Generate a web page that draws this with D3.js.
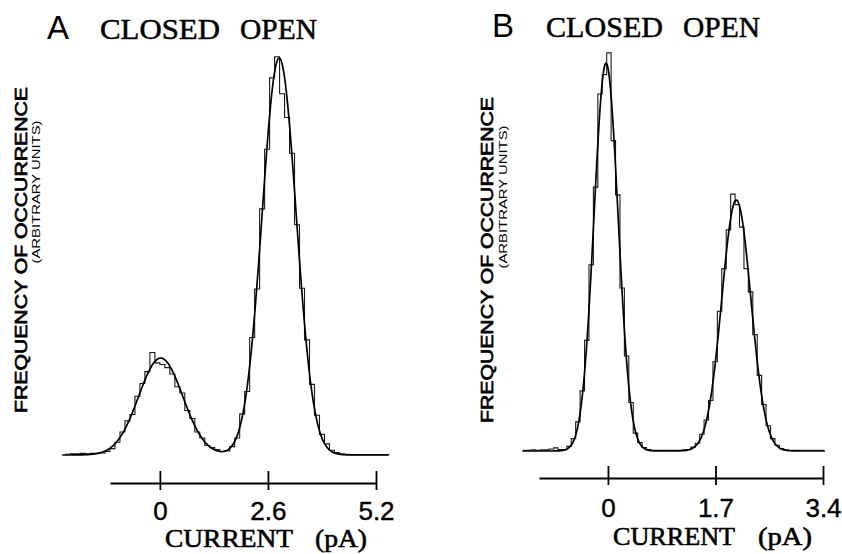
<!DOCTYPE html>
<html>
<head>
<meta charset="utf-8">
<script src="https://cdn.jsdelivr.net/npm/d3@7"></script>
<style>
  html, body { margin: 0; padding: 0; background: #fff; }
  svg { display: block; }
</style>
</head>
<body>
<svg id="chart" width="842" height="554"></svg>
<script>
// ---------------- DATA ----------------
// Panel A: amplitude histogram (arbitrary units), bins of 0.12 pA starting at -2.28 pA
const histStartA = -2.28;
const binWidthA = 0.12;
const histA = [0.2,0.3,0.3,0.4,0.3,0.4,0.4,0.5,0.9,1.6,
               3.2,5.8,8.6,10.2,14.8,18.0,21.0,25.8,23.2,22.8,
               22.0,20.4,17.2,15.6,11.2,9.2,5.8,4.3,2.4,1.9,
               1.4,0.9,1.0,2.1,4.3,10.3,16.0,29.6,41.8,62.0,
               77.0,95.0,100.3,91.0,85.0,76.0,58.0,42.0,29.0,17.8,
               10.0,5.2,2.8,1.2,0.6,0.3,0.2,0.1,0.1,0.1,
               0.1,0.1,0.1,0.1,0.1];
// Panel A: fitted Gaussian components (closed, open)
const fitMeanA = [0.02, 2.87];
const fitSdA   = [0.53, 0.41];
const fitAmpA  = [24.4, 100];
const fitRangeA = [-2.35, 5.5];
const axisRangeA = [-1.2, 5.2];
const ticksA = [0, 2.6, 5.2];

// Panel B: amplitude histogram, bins of 0.07 pA starting at -1.35 pA
const histStartB = -1.35;
const binWidthB = 0.07;
const histB = [0.2,0.2,0.3,0.2,0.3,0.3,0.5,
               0.8,0.4,0.4,1.2,3.2,7.5,15.5,28.5,48,68,92,97,102.6,80,66,42,24.5,12.5,4.6,2.2,0.9,0.4,0.2,
               0.15,0.15,0.15,0.2,0.2,0.2,0.3,0.4,1.0,
               2.0,4.3,8,13,23,36,47,57,66.2,63.5,57.7,47,41,30,19.5,12,6.5,3.2,1.5,0.6,0.3,
               0.2,0.2,0.2,0.2,0.2,0.2,0.2,0.2];
const fitMeanB = [-0.03, 2.03];
const fitSdB   = [0.19, 0.23];
const fitAmpB  = [100, 64.7];
const fitRangeB = [-1.35, 3.43];
const axisRangeB = [-1.09, 3.4];
const ticksB = [0, 1.7, 3.4];

const panelLetters = ["A", "B"];
const stateLabels = ["CLOSED", "OPEN"];
const yLabel = "FREQUENCY OF OCCURRENCE";
const ySubLabel = "(ARBITRARY UNITS)";
const xLabelMain = "CURRENT";
const xLabelUnit = "(pA)";

// ---------------- DRAWING ----------------
const svg = d3.select("#chart");
svg.append("rect").attr("width", 842).attr("height", 554).attr("fill", "#fff");

const SANS = "'Liberation Sans', Arial, Helvetica, sans-serif";
const SERIF = "'Liberation Serif', 'Times New Roman', serif";

function drawPanel(cfg) {
  const g = svg.append("g");
  const x = d3.scaleLinear().domain(cfg.axisRange).range(cfg.xRange);
  const y = d3.scaleLinear().domain([0, 100]).range(cfg.yRange);

  // histogram (step outline)
  const pts = cfg.hist.map((v, i) => ({ e: cfg.histStart + i * cfg.binWidth, v }));
  pts.push({ e: cfg.histStart + cfg.hist.length * cfg.binWidth, v: cfg.hist[cfg.hist.length - 1] });
  const stepLine = d3.line().x(d => x(d.e)).y(d => y(d.v)).curve(d3.curveStepAfter);
  g.append("path").attr("d", stepLine(pts))
    .attr("fill", "none").attr("stroke", "#1a1a1a").attr("stroke-width", 1.1);

  // fitted sum of gaussians
  const fit = xv => d3.sum(cfg.fitMean, (m, j) =>
      cfg.fitAmp[j] * Math.exp(-((xv - m) ** 2) / (2 * cfg.fitSd[j] ** 2)));
  const xs = d3.range(cfg.fitRange[0], cfg.fitRange[1] + 1e-9, 0.01);
  const fitLine = d3.line().x(d => x(d)).y(d => y(fit(d))).curve(d3.curveBasis);
  g.append("path").attr("d", fitLine(xs))
    .attr("fill", "none").attr("stroke", "#000").attr("stroke-width", 1.7);

  // x axis
  const axis = d3.axisBottom(x).tickValues(cfg.ticks)
    .tickFormat(d => d === 0 ? "0" : d.toFixed(1))
    .tickSizeOuter(0).tickSizeInner(7).tickPadding(0);
  const ag = g.append("g").attr("transform", `translate(0,${cfg.axisY})`).call(axis);
  ag.attr("font-family", null).attr("font-size", null);
  ag.select(".domain").attr("stroke", "#000").attr("stroke-width", 1.8);
  ag.selectAll(".tick line").attr("y1", -12).attr("y2", 7)
    .attr("stroke", "#000").attr("stroke-width", 1.8);
  ag.selectAll(".tick text").attr("y", cfg.tickLabelDy).attr("dy", 0)
    .style("font-family", SANS).style("font-size", "26px").attr("fill", "#000")
    .attr("stroke", "#000").attr("stroke-width", 0.4);

  // x label
  g.append("text").attr("x", cfg.xl[0]).attr("y", cfg.xl[2])
    .style("font-family", SERIF).style("font-size", "26px").attr("textLength", cfg.xl[1])
    .attr("lengthAdjust", "spacingAndGlyphs").attr("stroke", "#000").attr("stroke-width", 0.6)
    .text(xLabelMain);
  g.append("text").attr("x", cfg.xu[0]).attr("y", cfg.xl[2])
    .style("font-family", SERIF).style("font-size", "26px").attr("textLength", cfg.xu[1])
    .attr("lengthAdjust", "spacingAndGlyphs").attr("stroke", "#000").attr("stroke-width", 0.6)
    .text(xLabelUnit);

  // panel letter + titles
  g.append("text").attr("x", cfg.letter[0]).attr("y", cfg.letter[1])
    .style("font-family", SANS).style("font-size", "33px").text(cfg.letterText);
  stateLabels.forEach((s, i) => {
    g.append("text").attr("x", cfg.titles[i][0]).attr("y", cfg.letter[1])
      .style("font-family", SERIF).style("font-size", "29px")
      .attr("textLength", cfg.titles[i][1]).attr("lengthAdjust", "spacingAndGlyphs")
      .attr("stroke", "#000").attr("stroke-width", 0.5)
      .text(s);
  });

  // y labels (rotated)
  g.append("text")
    .attr("transform", `translate(${cfg.yl[0]},${cfg.yl[1]}) rotate(-90)`)
    .attr("text-anchor", "middle").style("font-family", SANS)
    .style("font-size", "17px").attr("textLength", cfg.yl[2]).attr("lengthAdjust", "spacingAndGlyphs")
    .attr("stroke", "#000").attr("stroke-width", 0.7)
    .text(yLabel);
  g.append("text")
    .attr("transform", `translate(${cfg.ys[0]},${cfg.ys[1]}) rotate(-90)`)
    .attr("text-anchor", "middle").style("font-family", SANS)
    .style("font-size", "10px").attr("textLength", cfg.ys[2]).attr("lengthAdjust", "spacingAndGlyphs")
    .text(ySubLabel);
}

drawPanel({
  hist: histA, histStart: histStartA, binWidth: binWidthA,
  fitMean: fitMeanA, fitSd: fitSdA, fitAmp: fitAmpA, fitRange: fitRangeA,
  axisRange: axisRangeA, ticks: ticksA,
  xRange: [110, 376], yRange: [455, 58], axisY: 483, tickLabelDy: 37,
  xl: [165, 128, 547], xu: [315, 52],
  letterText: panelLetters[0], letter: [47, 39], titles: [[100, 120], [240, 77]],
  yl: [27, 250, 326], ys: [40, 192, 143]
});

drawPanel({
  hist: histB, histStart: histStartB, binWidth: binWidthB,
  fitMean: fitMeanB, fitSd: fitSdB, fitAmp: fitAmpB, fitRange: fitRangeB,
  axisRange: axisRangeB, ticks: ticksB,
  xRange: [539, 823], yRange: [451, 63], axisY: 478, tickLabelDy: 39,
  xl: [613, 122, 545], xu: [758, 54],
  letterText: panelLetters[1], letter: [492, 37], titles: [[546, 117], [683, 77]],
  yl: [493, 260, 326], ys: [507, 197, 143]
});
</script>
</body>
</html>
